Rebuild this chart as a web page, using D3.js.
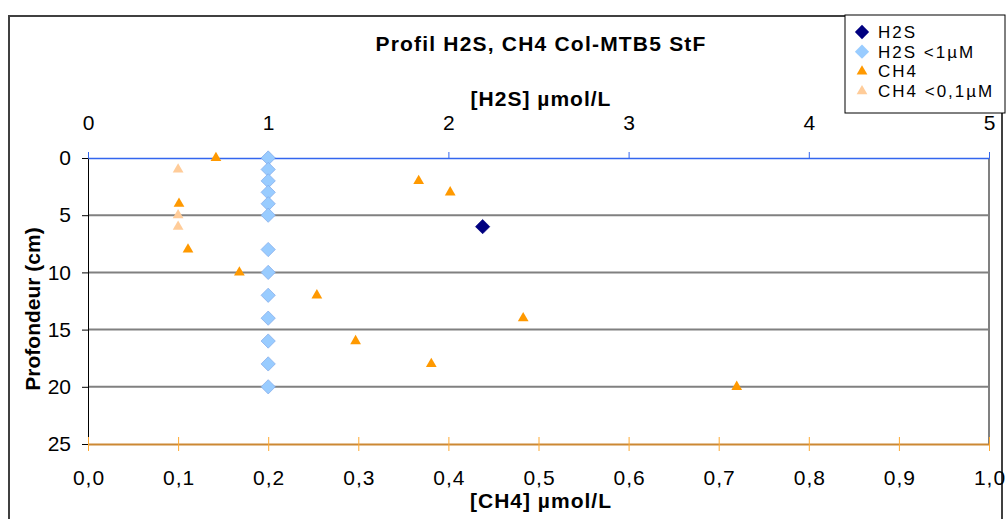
<!DOCTYPE html>
<html>
<head>
<meta charset="utf-8">
<script src="https://cdn.jsdelivr.net/npm/d3@7"></script>
<style>
  body { margin: 0; background: #fff; }
  svg { font-family: Arial, "Liberation Sans", sans-serif; display: block; }
</style>
</head>
<body>
<svg></svg>
<script>
// depths (cm) and values
let h2sDepth = [6],
    h2sVal = [2.19],
    h2sLowDepth = [0, 1, 2, 3, 4, 5, 8, 10, 12, 14, 16, 18, 20],
    h2sLowVal = [1, 1, 1, 1, 1, 1, 1, 1, 1, 1, 1, 1, 1],
    ch4Depth = [0, 2, 3, 4, 8, 10, 12, 14, 16, 18, 20],
    ch4Val = [0.142, 0.367, 0.402, 0.101, 0.111, 0.168, 0.254, 0.483, 0.297, 0.381, 0.72],
    ch4LowDepth = [1, 5, 6],
    ch4LowVal = [0.1, 0.1, 0.1],
    depthTicks = [0, 5, 10, 15, 20, 25],
    h2sTicks = [0, 1, 2, 3, 4, 5],
    ch4Ticks = [0, 0.1, 0.2, 0.3, 0.4, 0.5, 0.6, 0.7, 0.8, 0.9, 1.0];

let width = 1008, height = 519,
    plotL = 88, plotR = 989, plotT = 158, plotB = 444;

let svg = d3.select("svg").attr("width", width).attr("height", height);

let yScale = d3.scaleLinear().domain([0, 25]).range([plotT, plotB]),
    xTop = d3.scaleLinear().domain([0, 5]).range([plotL, plotR]),
    xBot = d3.scaleLinear().domain([0, 1]).range([plotL, plotR]);

// chart border
svg.append("path")
  .attr("d", `M9,${height + 2} V16 H1002 V${height + 2}`)
  .attr("fill", "none").attr("stroke", "#404040").attr("stroke-width", 2);

// gridlines
svg.selectAll(".grid")
  .data(depthTicks.filter(d => d > 0 && d < 25))
  .enter().append("line")
  .attr("x1", plotL).attr("x2", plotR)
  .attr("y1", d => yScale(d)).attr("y2", d => yScale(d))
  .attr("stroke", "#808080").attr("stroke-width", 2);

// right border of plot
svg.append("line")
  .attr("x1", plotR).attr("x2", plotR).attr("y1", plotT).attr("y2", plotB)
  .attr("stroke", "#808080").attr("stroke-width", 2);

function tickText(sel) {
  sel.selectAll("text")
    .style("font-size", "21px")
    .style("font-family", "Arial, 'Liberation Sans', sans-serif")
    .attr("fill", "#000");
}

// left axis
let yAxis = svg.append("g")
  .attr("transform", `translate(${plotL},0)`)
  .call(d3.axisLeft(yScale).tickValues(depthTicks).tickSize(6).tickPadding(11).tickFormat(d3.format("d")));
yAxis.select(".domain").attr("stroke", "#000");
yAxis.selectAll(".tick line").attr("stroke", "#000");
tickText(yAxis);

// top axis (H2S)
let topAxis = svg.append("g")
  .attr("transform", `translate(0,${plotT})`)
  .call(d3.axisTop(xTop).tickValues(h2sTicks).tickSize(6).tickSizeOuter(0).tickFormat(d3.format("d")));
topAxis.select(".domain").attr("stroke", "#3366ee").attr("stroke-width", 1.5);
topAxis.selectAll(".tick line").attr("stroke", "#3366ee");
tickText(topAxis);
topAxis.selectAll("text").attr("y", -28).attr("dy", 0);

// bottom axis (CH4)
let botAxis = svg.append("g")
  .attr("transform", `translate(0,${plotB})`)
  .call(d3.axisBottom(xBot).tickValues(ch4Ticks).tickSize(7).tickSizeOuter(0)
    .tickFormat(d => d3.format(".1f")(d).replace(".", ",")));
botAxis.select(".domain").attr("stroke", "#cc8833").attr("stroke-width", 2);
botAxis.selectAll(".tick line").attr("stroke", "#ffaa33").attr("y1", -7);
tickText(botAxis);
botAxis.selectAll("text").attr("y", 41).attr("dy", 0).attr("x", 0.5).style("letter-spacing", "1px");

// titles
function title(x, y, txt, ls) {
  return svg.append("text").attr("x", x).attr("y", y).attr("text-anchor", "middle")
    .style("font-size", "21px").style("font-weight", "bold").style("letter-spacing", ls + "px").text(txt);
}
title(541, 51, "Profil H2S, CH4 Col-MTB5 StF", 1.2);
title(541, 106, "[H2S] µmol/L", 1);
title(541, 508, "[CH4] µmol/L", 1);
svg.append("text").attr("transform", "translate(40,309) rotate(-90)").attr("text-anchor", "middle")
  .style("font-size", "21px").style("font-weight", "bold").text("Profondeur (cm)");

let diamond = d3.symbol().type(d3.symbolDiamond2).size(130),
    triangle = d3.symbol().type(d3.symbolTriangle).size(50);

function drawSeries(vals, depths, xs, sym, fill, stroke) {
  svg.append("g").selectAll("path")
    .data(vals.map((v, i) => [v, depths[i]]))
    .enter().append("path")
    .attr("d", sym)
    .attr("transform", d => `translate(${xs(d[0])},${yScale(d[1])})`)
    .attr("fill", fill).attr("stroke", stroke).attr("stroke-width", 0.7);
}

drawSeries(h2sLowVal, h2sLowDepth, xTop, diamond, "#99ccff", "#7fa8e8");
drawSeries(h2sVal, h2sDepth, xTop, diamond, "#000080", "#000080");
drawSeries(ch4Val, ch4Depth, xBot, triangle, "#ff9900", "none");
drawSeries(ch4LowVal, ch4LowDepth, xBot, triangle, "#ffcc99", "none");

// legend
let legNames = ["H2S", "H2S <1µM", "CH4", "CH4 <0,1µM"],
    legSym = [diamond, diamond, triangle, triangle],
    legFill = ["#000080", "#99ccff", "#ff9900", "#ffcc99"];

svg.append("rect").attr("x", 845).attr("y", 15).attr("width", 160).attr("height", 98)
  .attr("fill", "#fff").attr("stroke", "#000").attr("stroke-width", 1);

let leg = svg.append("g").selectAll("g")
  .data(legNames)
  .enter().append("g")
  .attr("transform", (d, i) => `translate(862,${32 + i * 19.7})`);
leg.append("path").attr("d", (d, i) => legSym[i]()).attr("fill", (d, i) => legFill[i]);
leg.append("text").attr("x", 16).attr("y", 6)
  .style("font-size", "17px").style("letter-spacing", "2px").text(d => d);
</script>
</body>
</html>
